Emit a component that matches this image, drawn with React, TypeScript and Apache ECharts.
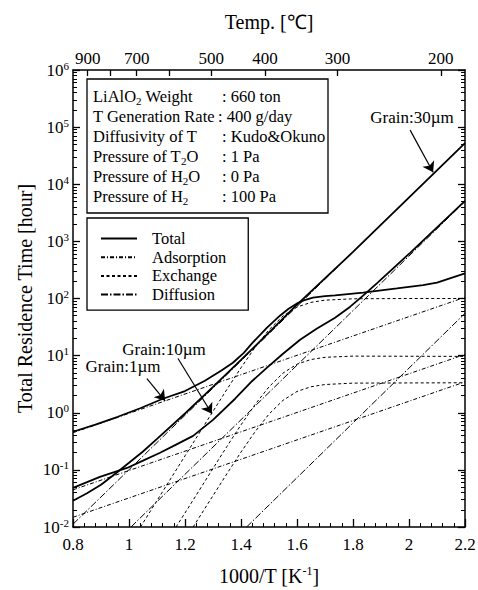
import React, { useEffect, useRef } from "react";
import * as echarts from "echarts";

const FONT = "'Liberation Serif', 'Times New Roman', serif";

// ---- axes ----
const xMin = 0.8;
const xMax = 2.2;
const tempTickC = [900, 800, 700, 600, 500, 400, 300, 200];
const tempLabelC = [900, 700, 500, 400, 300, 200];
const yDecades = [-2, -1, 0, 1, 2, 3, 4, 5, 6];

// ---- Total residence time (solid) ----
const total1X = [0.8, 0.88, 0.96, 1.04, 1.121, 1.2, 1.271, 1.33, 1.371, 1.41, 1.44, 1.47, 1.493, 1.539, 1.57, 1.6, 1.63, 1.657, 1.7, 1.736, 1.836, 1.957, 2.05, 2.1, 2.2];
const total1Y = [0.465, 0.62, 0.85, 1.2, 1.76, 2.4, 3.64, 5.5, 7.5, 11.2, 16.6, 23.5, 31, 50, 66, 82, 95, 104, 110, 113, 127, 150, 172, 190, 275];

const total10X = [0.8, 0.896, 0.993, 1.05, 1.111, 1.17, 1.229, 1.3, 1.379, 1.44, 1.493, 1.55, 1.611, 1.67, 1.736, 1.79, 1.836, 1.886, 2.004, 2.2];
const total10Y = [0.0483, 0.0753, 0.108, 0.145, 0.199, 0.28, 0.394, 0.75, 1.76, 3.6, 6.15, 10.8, 19, 29.5, 46, 72, 112, 186, 630, 5130];

const total30X = [0.8, 0.85, 0.9, 0.96, 1.0, 1.05, 1.1, 1.2, 1.3, 1.4, 1.5, 1.6, 1.8, 2.2];
const total30Y = [0.0288, 0.039, 0.055, 0.093, 0.133, 0.21, 0.348, 0.97, 2.83, 8.4, 25.5, 78, 653, 52500];

// ---- Adsorption (dash-dot, straight) ----
const ads1X = [0.8, 2.2];
const ads1Y = [0.447, 105];
const ads10X = [0.8, 2.2];
const ads10Y = [0.0447, 10.5];
const ads30X = [0.8, 2.2];
const ads30Y = [0.0148, 3.47];

// ---- Exchange (dashed, saturating) ----
const exc1X = [1.041, 1.1, 1.2, 1.3, 1.35, 1.4, 1.45, 1.5, 1.55, 1.6, 1.65, 1.7, 1.8, 2.0, 2.2];
const exc1Y = [0.01, 0.029, 0.176, 1.06, 2.58, 6.14, 13.9, 28.4, 49.4, 70.8, 85.5, 93.5, 98.9, 100, 100];
const exc10X = [1.168, 1.2, 1.3, 1.35, 1.4, 1.45, 1.5, 1.55, 1.6, 1.65, 1.7, 1.8, 2.2];
const exc10Y = [0.01, 0.0176, 0.106, 0.258, 0.614, 1.39, 2.84, 4.94, 7.08, 8.55, 9.35, 9.8, 9.7];
const exc30X = [1.229, 1.3, 1.35, 1.4, 1.45, 1.5, 1.55, 1.6, 1.65, 1.7, 1.8, 2.2];
const exc30Y = [0.01, 0.0354, 0.086, 0.205, 0.463, 0.947, 1.65, 2.36, 2.85, 3.12, 3.3, 3.35];

// ---- Diffusion (dash-dot, steep) ----
const dif1X = [1.42, 2.2];
const dif1Y = [0.01, 55];
const dif10X = [1.007, 2.2];
const dif10Y = [0.01, 5000];
const dif30X = [0.8, 2.2];
const dif30Y = [0.0112, 52500];

// ---- annotations ----
const arrow1 = [[1.064, 3.95], [1.129, 1.62]];
const arrow10 = [[1.175, 8.9], [1.296, 0.96]];
const arrow30 = [[2.004, 88500], [2.086, 16200]];

const infoLabels = [
  "{n|LiAlO}{d|2}{n| Weight}",
  "{n|T Generation Rate}",
  "{n|Diffusivity of T}",
  "{n|Pressure of T}{d|2}{n|O}",
  "{n|Pressure of H}{d|2}{n|O}",
  "{n|Pressure of H}{d|2}",
];
const infoValues = [": 660 ton", ": 400 g/day", ": Kudo&Okuno", ": 1 Pa", ": 0 Pa", ": 100 Pa"];

const zip = (xs: number[], ys: number[]) => xs.map((x, i) => [x, ys[i]]);

const lineBase = (name: string, data: number[][], lineStyle: any, extra: any = {}) => ({
  name,
  type: "line",
  data,
  xAxisIndex: 0,
  yAxisIndex: 0,
  symbol: "none",
  showSymbol: false,
  silent: true,
  smooth: false,
  lineStyle: { color: "#000", ...lineStyle },
  itemStyle: { color: "#000" },
  ...extra,
});

const arrowMark = (pts: number[][]) => ({
  silent: true,
  symbol: ["none", "arrow"],
  symbolSize: 10,
  label: { show: false },
  lineStyle: { color: "#000", width: 1.2, type: "solid" },
  data: [[{ coord: pts[0] }, { coord: pts[1] }]],
});

export default function App() {
  const ref = useRef<HTMLDivElement>(null);
  useEffect(() => {
    if (!ref.current) return;
    const chart = echarts.init(ref.current, undefined, { renderer: "svg" });

    const tempTickX = tempTickC.map((c) => 1000 / (c + 273.15));
    const tempLabelX = tempLabelC.map((c) => 1000 / (c + 273.15));
    const majorY = yDecades.map((d) => Math.pow(10, d));
    const minorY: number[] = [];
    for (let d = -2; d < 6; d++) for (let m = 2; m <= 9; m++) minorY.push(m * Math.pow(10, d));

    const tot = { width: 1.8, type: "solid" };
    const adsS = { width: 1, type: [4, 2, 1, 2] };
    const excS = { width: 1, type: [3, 2.5] };
    const difS = { width: 1, type: [7, 2, 1.5, 2] };

    const axisLineS = { show: true, onZero: false, lineStyle: { color: "#000", width: 1.5 } };

    const yBase = {
      type: "log",
      logBase: 10,
      min: 0.01,
      max: 1e6,
      splitLine: { show: false },
      minorTick: { show: false },
      minorSplitLine: { show: false },
    };

    const info: any[] = [
      {
        type: "rect",
        shape: { x: 87, y: 79, width: 241, height: 134 },
        style: { fill: "#fff", stroke: "#000", lineWidth: 1.3 },
        z: 10,
      },
    ];
    const rowY = [96, 116.5, 136, 156, 176.5, 196.5];
    const colonX = [222, 218, 222, 222, 222, 222];
    const rich = {
      n: { fontFamily: FONT, fontSize: 16.5, color: "#000", lineHeight: 20 },
      d: { fontFamily: FONT, fontSize: 11, color: "#000", lineHeight: 20, verticalAlign: "bottom" },
    };
    infoLabels.forEach((t, i) => {
      info.push({
        type: "text",
        x: 93,
        y: rowY[i],
        z: 11,
        style: { text: t, rich, textAlign: "left", textVerticalAlign: "middle", fill: "#000" },
      });
      info.push({
        type: "text",
        x: colonX[i],
        y: rowY[i],
        z: 11,
        style: {
          text: infoValues[i],
          font: `16.5px ${FONT}`,
          textAlign: "left",
          textVerticalAlign: "middle",
          fill: "#000",
        },
      });
    });
    const annText = (text: string, x: number, y: number) => ({
      type: "text",
      x,
      y,
      z: 11,
      style: { text, font: `17px ${FONT}`, textAlign: "center", textVerticalAlign: "middle", fill: "#000" },
    });
    info.push(annText("Grain:30µm", 412, 117));
    info.push(annText("Grain:10µm", 164, 349));
    info.push(annText("Grain:1µm", 123, 366));

    const option: any = {
      animation: false,
      backgroundColor: "#fff",
      textStyle: { fontFamily: FONT, color: "#000" },
      grid: { left: 73, top: 70, width: 392, height: 457, show: false, outerBoundsMode: "none", containLabel: false },
      legend: {
        left: 87,
        top: 218,
        orient: "vertical",
        itemWidth: 36,
        itemHeight: 14,
        itemGap: 1.7,
        padding: [12, 22, 7, 13],
        borderColor: "#000",
        borderWidth: 1.3,
        borderRadius: 0,
        backgroundColor: "#fff",
        selectedMode: false,
        itemStyle: { opacity: 0, borderWidth: 0 },
        textStyle: { fontFamily: FONT, fontSize: 16.5, color: "#000", padding: [0, 0, 0, 10] },
        data: ["Total", "Adsorption", "Exchange", "Diffusion"],
      },
      xAxis: [
        {
          type: "value",
          position: "bottom",
          min: xMin,
          max: xMax,
          interval: 0.2,
          axisLine: axisLineS,
          axisTick: { show: true, inside: true, length: 8, lineStyle: { color: "#000", width: 1.3 } },
          minorTick: { show: true, splitNumber: 5, length: 4, lineStyle: { color: "#000", width: 1 } },
          splitLine: { show: false },
          axisLabel: {
            color: "#000",
            fontFamily: FONT,
            fontSize: 17,
            margin: 9,
            formatter: (v: number) => String(Math.round(v * 10) / 10),
          },
          name: "{a|1000/T [K}{s|-1}{a|]}",
          nameLocation: "middle",
          nameGap: 38,
          nameMoveOverlap: false,
          nameTextStyle: {
            rich: {
              a: { fontFamily: FONT, fontSize: 20, color: "#000", lineHeight: 22 },
              s: { fontFamily: FONT, fontSize: 12, color: "#000", lineHeight: 22, verticalAlign: "top" },
            },
          },
        },
        {
          type: "value",
          position: "top",
          min: xMin,
          max: xMax,
          axisLine: axisLineS,
          axisTick: {
            show: true,
            inside: true,
            length: 6,
            customValues: tempTickX,
            lineStyle: { color: "#000", width: 1.3 },
          },
          splitLine: { show: false },
          axisLabel: {
            show: true,
            customValues: tempLabelX,
            color: "#000",
            fontFamily: FONT,
            fontSize: 17,
            margin: 3,
            formatter: (v: number) => String(Math.round(1000 / v - 273.15)),
          },
          name: "Temp. [℃]",
          nameLocation: "middle",
          nameGap: 38,
          nameMoveOverlap: false,
          nameTextStyle: { fontFamily: FONT, fontSize: 20, color: "#000" },
        },
      ],
      yAxis: [
        {
          ...yBase,
          position: "left",
          axisLine: axisLineS,
          axisTick: { show: true, inside: true, length: 7, customValues: majorY, lineStyle: { color: "#000", width: 1.3 } },
          axisLabel: {
            show: true,
            customValues: majorY,
            margin: 4,
            formatter: (v: number) => `{b|10}{s|${Math.round(Math.log10(v))}}`,
            rich: {
              b: { fontFamily: FONT, fontSize: 17, color: "#000", lineHeight: 20 },
              s: { fontFamily: FONT, fontSize: 11, color: "#000", lineHeight: 20, verticalAlign: "top" },
            },
          },
          name: "Total Residence Time [hour]",
          nameLocation: "middle",
          nameGap: 38,
          nameMoveOverlap: false,
          nameTextStyle: { fontFamily: FONT, fontSize: 20, color: "#000" },
        },
        {
          ...yBase,
          position: "left",
          axisLine: { show: false },
          axisTick: { show: true, inside: true, length: 4, customValues: minorY, lineStyle: { color: "#000", width: 1 } },
          axisLabel: { show: false },
        },
        {
          ...yBase,
          position: "right",
          axisLine: axisLineS,
          axisTick: { show: true, inside: true, length: 7, customValues: majorY, lineStyle: { color: "#000", width: 1.3 } },
          axisLabel: { show: false },
        },
        {
          ...yBase,
          position: "right",
          axisLine: { show: false },
          axisTick: { show: true, inside: true, length: 4, customValues: minorY, lineStyle: { color: "#000", width: 1 } },
          axisLabel: { show: false },
        },
      ],
      graphic: info,
      series: [
        lineBase("Adsorption", zip(ads1X, ads1Y), adsS),
        lineBase("Adsorption", zip(ads10X, ads10Y), adsS),
        lineBase("Adsorption", zip(ads30X, ads30Y), adsS),
        lineBase("Exchange", zip(exc1X, exc1Y), excS),
        lineBase("Exchange", zip(exc10X, exc10Y), excS),
        lineBase("Exchange", zip(exc30X, exc30Y), excS),
        lineBase("Diffusion", zip(dif1X, dif1Y), difS),
        lineBase("Diffusion", zip(dif10X, dif10Y), difS),
        lineBase("Diffusion", zip(dif30X, dif30Y), difS),
        lineBase("Total", zip(total1X, total1Y), tot, { z: 5, markLine: arrowMark(arrow1) }),
        lineBase("Total", zip(total10X, total10Y), tot, { z: 5, markLine: arrowMark(arrow10) }),
        lineBase("Total", zip(total30X, total30Y), tot, { z: 5, markLine: arrowMark(arrow30) }),
      ],
    };
    chart.setOption(option);
    return () => chart.dispose();
  }, []);
  return (
    <div
      ref={ref}
      style={{ position: "fixed", left: 0, top: 0, width: 478, height: 590, background: "#fff" }}
    />
  );
}
